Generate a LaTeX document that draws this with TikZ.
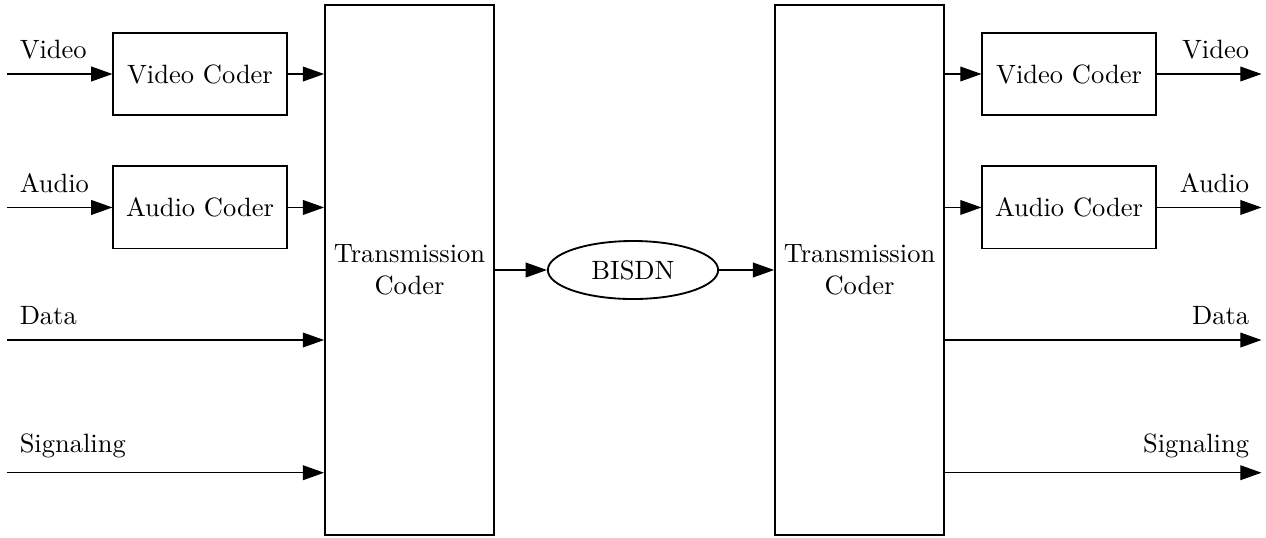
\documentclass[tikz,border=0pt]{standalone}
\usepackage{amsmath}
\usepackage{tikz}
\usetikzlibrary{arrows.meta,shapes,positioning,calc}

\tikzset{
	coder/.style={draw, line width=0.7pt, minimum width=2.3cm, minimum height=1.09cm},
	trans/.style={draw, line width=0.7pt, minimum width=2.216cm, minimum height=7.033cm, align=center},
	net/.style={draw, ellipse, line width=0.7pt, minimum width=2.26cm, minimum height=0.77cm},
	sig/.style={-{Triangle[length=8pt,width=5.6pt]}, line width=0.4pt},
	lbl/.style={inner xsep=4.5pt, inner ysep=5.5pt}
}

\begin{document}
\begin{tikzpicture}
		\useasboundingbox (0,0) rectangle (16.8,7.126);
		% sender side
		\node[coder] (vcodL) at (2.654,6.144) {Video Coder};
		\node[coder] (acodL) at (2.654,4.373) {Audio Coder};
		\node[trans] (tcodL) at (5.434,3.543) {Transmission\\Coder};
		\node[net] (bisdn) at (8.400,3.543) {BISDN};
		% receiver side
		\node[trans] (tcodR) at (11.406,3.543) {Transmission\\Coder};
		\node[coder] (vcodR) at (14.186,6.144) {Video Coder};
		\node[coder] (acodR) at (14.186,4.373) {Audio Coder};
		% free ends
		\coordinate (vin) at (0.097,6.144);
		\coordinate (ain) at (0.097,4.373);
		\coordinate (din) at (0.097,2.614);
		\coordinate (sin) at (0.097,0.853);
		\coordinate (vout) at (16.74,6.144);
		\coordinate (aout) at (16.74,4.373);
		\coordinate (dout) at (16.74,2.614);
		\coordinate (sout) at (16.74,0.853);
		% inputs
		\draw[sig] (vin) node[lbl, above right] {Video} -- (vcodL);
		\draw[sig] (ain) node[lbl, above right] {Audio} -- (acodL);
		\draw[sig] (din) node[lbl, above right] {Data} -- (tcodL.west |- din);
		\draw[sig] (sin) node[lbl, above right] {Signaling} -- (tcodL.west |- sin);
		\draw[sig] (vcodL) -- (tcodL.west |- vcodL);
		\draw[sig] (acodL) -- (tcodL.west |- acodL);
		% network
		\draw[sig] (tcodL.east |- bisdn) -- (bisdn);
		\draw[sig] (bisdn) -- (tcodR.west |- bisdn);
		% outputs
		\draw[sig] (tcodR.east |- vcodR) -- (vcodR);
		\draw[sig] (tcodR.east |- acodR) -- (acodR);
		\draw[sig] (vcodR) -- (vout) node[lbl, above left] {Video};
		\draw[sig] (acodR) -- (aout) node[lbl, above left] {Audio};
		\draw[sig] (tcodR.east |- dout) -- (dout) node[lbl, above left] {Data};
		\draw[sig] (tcodR.east |- sout) -- (sout) node[lbl, above left] {Signaling};
\end{tikzpicture}
\end{document}
